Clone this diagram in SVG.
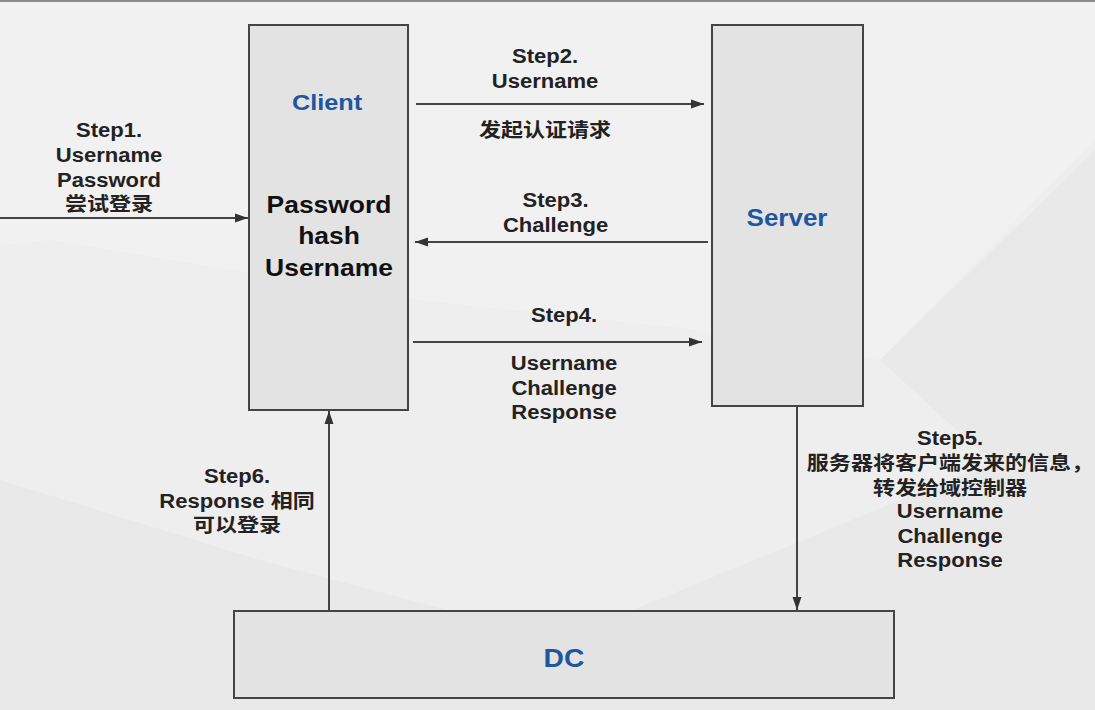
<svg xmlns="http://www.w3.org/2000/svg" width="1095" height="710" viewBox="0 0 1095 710">
<defs>
<style>
.bg{fill:#eeeeef}
.patch{fill:#e9e9ea}
.light{fill:#f1f1f2}
.box{fill:#e3e3e4;stroke:#444;stroke-width:2}
.lbl{font-family:"Liberation Sans","Noto Sans CJK SC",sans-serif;font-weight:bold;font-size:19.5px;fill:#222;text-anchor:middle}
.inner{font-family:"Liberation Sans",sans-serif;font-weight:bold;font-size:23px;fill:#111;text-anchor:middle}
.title{font-family:"Liberation Sans",sans-serif;font-weight:bold;fill:#1f56a0;text-anchor:middle}
.conn{stroke:#444;stroke-width:2;fill:none;marker-end:url(#arr)}
</style>
<marker id="arr" markerUnits="userSpaceOnUse" markerWidth="14" markerHeight="10" refX="13" refY="5" orient="auto">
<path d="M0,0.5 L13,5 L0,9.5 z" fill="#333"/>
</marker>
</defs>
<g id="background">
<rect class="bg" x="0" y="0" width="1095" height="710"/>
<polygon class="light" points="0,0 1095,0 1095,140 880,360 700,330 420,300 50,240 0,245"/>
<polygon class="patch" points="0,480 260,560 560,640 1095,420 1095,710 0,710"/>
<polygon class="patch" points="880,360 1095,150 1095,420 1000,470"/>
<rect x="0" y="0" width="1095" height="2" fill="#8c8c8c"/>
</g>
<g id="connectors">
<line class="conn" x1="0" y1="218" x2="248" y2="218"/>
<line class="conn" x1="416" y1="104" x2="704" y2="104"/>
<line class="conn" x1="708" y1="242" x2="415" y2="242"/>
<line class="conn" x1="413" y1="342" x2="702" y2="342"/>
<line class="conn" x1="797" y1="407" x2="797" y2="610"/>
<line class="conn" x1="329" y1="611" x2="329" y2="411"/>
</g>
<g id="client">
<rect class="box" x="249" y="25" width="159" height="385"/>
<g transform="translate(327 0) scale(1.15 1)"><text class="title" x="0" y="110" font-size="22">Client</text></g>
<g transform="translate(329 0) scale(1.15 1)">
<text class="inner" x="0" y="213">Password</text>
<text class="inner" x="0" y="244">hash</text>
<text class="inner" x="0" y="276">Username</text>
</g>
</g>
<g id="server">
<rect class="box" x="712" y="25" width="151" height="381"/>
<g transform="translate(787 0) scale(1.13 1)"><text class="title" x="0" y="226" font-size="23">Server</text></g>
</g>
<g id="dc">
<rect class="box" x="234" y="611" width="660" height="87"/>
<g transform="translate(564 0) scale(1.13 1)"><text class="title" x="0" y="667" font-size="25">DC</text></g>
</g>
<g id="labels">
<g transform="translate(109 0) scale(1.13 1)">
<text class="lbl" x="0" y="137">Step1.</text>
<text class="lbl" x="0" y="162">Username</text>
<text class="lbl" x="0" y="187">Password</text>
<text class="lbl" x="0" y="211">尝试登录</text>
</g>
<g transform="translate(545 0) scale(1.13 1)">
<text class="lbl" x="0" y="63">Step2.</text>
<text class="lbl" x="0" y="88">Username</text>
<text class="lbl" x="0" y="137">发起认证请求</text>
</g>
<g transform="translate(555.5 0) scale(1.13 1)">
<text class="lbl" x="0" y="207">Step3.</text>
<text class="lbl" x="0" y="232">Challenge</text>
</g>
<g transform="translate(564 0) scale(1.13 1)">
<text class="lbl" x="0" y="322">Step4.</text>
<text class="lbl" x="0" y="370">Username</text>
<text class="lbl" x="0" y="395">Challenge</text>
<text class="lbl" x="0" y="419">Response</text>
</g>
<g transform="translate(950 0) scale(1.13 1)">
<text class="lbl" x="0" y="445">Step5.</text>
<text class="lbl" x="0" y="470">服务器将客户端发来的信息，</text>
<text class="lbl" x="0" y="495">转发给域控制器</text>
<text class="lbl" x="0" y="518">Username</text>
<text class="lbl" x="0" y="543">Challenge</text>
<text class="lbl" x="0" y="567">Response</text>
</g>
<g transform="translate(237 0) scale(1.13 1)">
<text class="lbl" x="0" y="483">Step6.</text>
<text class="lbl" x="0" y="508">Response 相同</text>
<text class="lbl" x="0" y="532">可以登录</text>
</g>
</g>
</svg>
